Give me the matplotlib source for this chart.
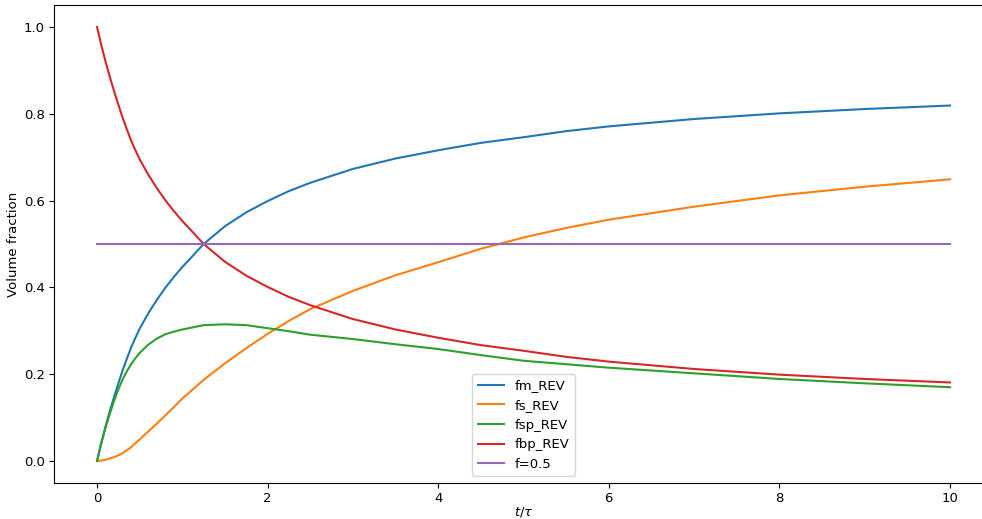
import matplotlib
matplotlib.use("Agg")
import matplotlib.pyplot as plt

plt.rcParams["font.size"] = 9.5

# dimensionless time t/tau (sample points)
t = [0, 0.05, 0.1, 0.15, 0.2, 0.25, 0.3, 0.35, 0.4, 0.45, 0.5, 0.6, 0.7,
     0.8, 0.9, 1.0, 1.1, 1.25, 1.5, 1.75, 2.0, 2.25, 2.5, 3.0, 3.5, 4.0,
     4.5, 5.0, 5.5, 6.0, 7.0, 8.0, 9.0, 10.0]

fm_rev = [0.0, 0.042, 0.080, 0.115, 0.148, 0.179, 0.209, 0.236, 0.262, 0.284,
          0.305, 0.340, 0.371, 0.399, 0.424, 0.447, 0.468, 0.500, 0.541, 0.573,
          0.599, 0.622, 0.641, 0.673, 0.697, 0.716, 0.733, 0.746, 0.760, 0.771,
          0.788, 0.801, 0.811, 0.819]
fs_rev = [0.0, 0.001, 0.003, 0.006, 0.009, 0.013, 0.018, 0.025, 0.032, 0.041,
          0.050, 0.068, 0.086, 0.105, 0.124, 0.144, 0.161, 0.187, 0.225, 0.260,
          0.293, 0.323, 0.350, 0.392, 0.428, 0.458, 0.489, 0.515, 0.537, 0.556,
          0.586, 0.612, 0.632, 0.649]
fsp_rev = [0.0, 0.041, 0.077, 0.109, 0.139, 0.165, 0.188, 0.207, 0.223, 0.237,
           0.249, 0.268, 0.282, 0.292, 0.298, 0.303, 0.307, 0.313, 0.315, 0.313,
           0.306, 0.299, 0.291, 0.281, 0.269, 0.258, 0.244, 0.231, 0.223, 0.215,
           0.202, 0.189, 0.179, 0.170]
fbp_rev = [1.0, 0.958, 0.920, 0.885, 0.852, 0.821, 0.791, 0.764, 0.738, 0.716,
           0.695, 0.660, 0.629, 0.601, 0.576, 0.553, 0.532, 0.500, 0.459, 0.427,
           0.401, 0.378, 0.359, 0.327, 0.303, 0.284, 0.267, 0.254, 0.240, 0.229,
           0.212, 0.199, 0.189, 0.181]

ref_t = [0, 10]
ref_f = [0.5, 0.5]

fig = plt.figure(figsize=(9.82, 5.19), dpi=100)
ax = fig.add_axes([54.4 / 982, 36.3 / 519, 938.2 / 982, 477.4 / 519])

ax.plot(t, fm_rev, label="fm_REV")
ax.plot(t, fs_rev, label="fs_REV")
ax.plot(t, fsp_rev, label="fsp_REV")
ax.plot(t, fbp_rev, label="fbp_REV")
ax.plot(ref_t, ref_f, label="f=0.5")

ax.set_xlim(-0.5, 10.5)
ax.set_ylim(-0.05, 1.05)
ax.set_xlabel(r"$t/\tau$", labelpad=0)
ax.set_ylabel("Volume fraction", labelpad=3)
ax.legend(loc="lower center")

fig.savefig("out.png", dpi=100)
